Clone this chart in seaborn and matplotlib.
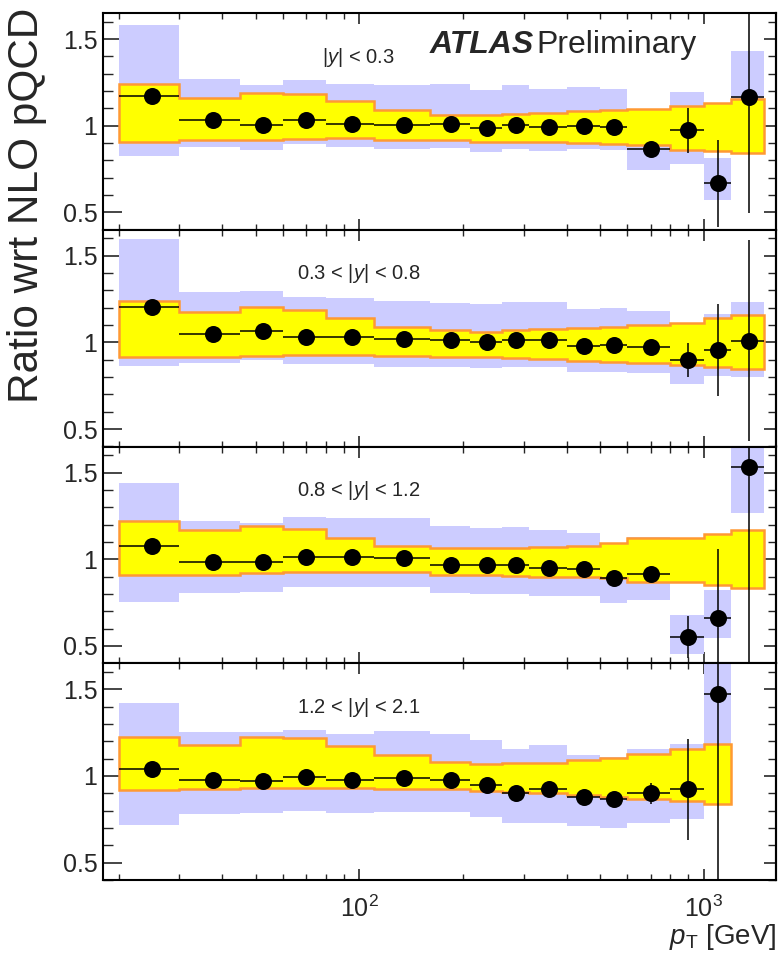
import numpy as np
import matplotlib
matplotlib.use("Agg")
import matplotlib.pyplot as plt
from matplotlib.ticker import (FixedLocator, MultipleLocator, FuncFormatter,
                               LogLocator, NullFormatter)
import seaborn as sns

# ---- binning in jet pT [GeV] ----
pt_edges = [20, 30, 45, 60, 80, 110, 160, 210, 260, 310, 400, 500, 600,
            800, 1000, 1200, 1500]
pt_mid = [25, 37.5, 52.5, 70, 95, 135, 185, 235, 285, 355, 450, 550, 700,
          900, 1100, 1350]

rap_labels = ["|$y$| < 0.3", "0.3 < |$y$| < 0.8",
              "0.8 < |$y$| < 1.2", "1.2 < |$y$| < 2.1"]

# ---- |y| < 0.3 ----
ratio_y0 = [1.174, 1.034, 1.006, 1.034, 1.011, 1.002, 1.011, 0.987, 1.006,
            0.992, 0.996, 0.992, 0.868, 0.973, 0.667, 1.165]
stat_y0 = [0.005] * 13 + [0.13, 0.25, 0.67]
syst_lo_y0 = [0.824, 0.877, 0.862, 0.893, 0.877, 0.868, 0.870, 0.849, 0.868,
              0.854, 0.868, 0.858, 0.747, 0.780, 0.571, 0.920]
syst_hi_y0 = [1.582, 1.270, 1.232, 1.264, 1.241, 1.232, 1.241, 1.207, 1.232,
              1.213, 1.226, 1.213, 0.990, 1.193, 0.816, 1.433]
theo_lo_y0 = [0.906, 0.916, 0.920, 0.923, 0.927, 0.920, 0.916, 0.906, 0.906,
              0.906, 0.900, 0.897, 0.887, 0.862, 0.854, 0.843]
theo_hi_y0 = [1.241, 1.159, 1.190, 1.180, 1.142, 1.088, 1.063, 1.059, 1.069,
              1.073, 1.082, 1.088, 1.098, 1.111, 1.130, 1.155]

# ---- 0.3 < |y| < 0.8 ----
ratio_y1 = [1.206, 1.051, 1.064, 1.034, 1.034, 1.018, 1.014, 1.005, 1.014,
            1.014, 0.982, 0.986, 0.972, 0.899, 0.957, 1.011]
stat_y1 = [0.005] * 13 + [0.10, 0.265, 0.58]
syst_lo_y1 = [0.867, 0.884, 0.899, 0.876, 0.876, 0.861, 0.861, 0.851, 0.861,
              0.861, 0.832, 0.832, 0.826, 0.761, 0.807, 0.800]
syst_hi_y1 = [1.596, 1.291, 1.298, 1.260, 1.254, 1.241, 1.229, 1.222, 1.235,
              1.235, 1.191, 1.197, 1.183, 1.030, 1.164, 1.235]
theo_lo_y1 = [0.915, 0.918, 0.922, 0.930, 0.930, 0.922, 0.918, 0.918, 0.909,
              0.903, 0.895, 0.890, 0.880, 0.870, 0.857, 0.845]
theo_hi_y1 = [1.237, 1.176, 1.202, 1.187, 1.141, 1.091, 1.072, 1.062, 1.072,
              1.076, 1.082, 1.091, 1.101, 1.114, 1.139, 1.158]

# ---- 0.8 < |y| < 1.2 ----
ratio_y2 = [1.078, 0.984, 0.984, 1.011, 1.011, 1.007, 0.968, 0.964, 0.968,
            0.949, 0.943, 0.893, 0.916, 0.552, 0.659, 1.529]
stat_y2 = [0.005] * 13 + [0.123, 0.40, 1.2]
syst_lo_y2 = [0.751, 0.808, 0.813, 0.838, 0.838, 0.838, 0.808, 0.800, 0.800,
              0.788, 0.788, 0.746, 0.765, 0.455, 0.543, 1.264]
syst_hi_y2 = [1.442, 1.220, 1.210, 1.245, 1.239, 1.235, 1.191, 1.181, 1.187,
              1.166, 1.152, 1.050, 1.127, 0.678, 0.823, 1.800]
theo_lo_y2 = [0.910, 0.910, 0.920, 0.927, 0.927, 0.924, 0.910, 0.910, 0.904,
              0.900, 0.900, 0.891, 0.871, 0.866, 0.852, 0.833]
theo_hi_y2 = [1.220, 1.171, 1.191, 1.175, 1.123, 1.074, 1.065, 1.062, 1.065,
              1.071, 1.078, 1.094, 1.123, 1.123, 1.143, 1.171]

# ---- 1.2 < |y| < 2.1 (no 1200-1500 GeV bin) ----
ratio_y3 = [1.038, 0.977, 0.971, 0.994, 0.977, 0.987, 0.977, 0.948, 0.904,
            0.923, 0.881, 0.869, 0.900, 0.923, 1.471]
stat_y3 = [0.005] * 12 + [0.06, 0.29, 1.1]
syst_lo_y3 = [0.717, 0.783, 0.785, 0.798, 0.788, 0.792, 0.792, 0.765, 0.731,
              0.731, 0.712, 0.702, 0.727, 0.750, 1.183]
syst_hi_y3 = [1.423, 1.254, 1.254, 1.265, 1.240, 1.260, 1.240, 1.208, 1.154,
              1.177, 1.119, 1.110, 1.154, 1.183, 1.800]
theo_lo_y3 = [0.919, 0.923, 0.929, 0.933, 0.933, 0.923, 0.923, 0.913, 0.908,
              0.904, 0.888, 0.881, 0.865, 0.856, 0.837]
theo_hi_y3 = [1.225, 1.177, 1.225, 1.221, 1.173, 1.119, 1.081, 1.067, 1.073,
              1.077, 1.090, 1.106, 1.125, 1.158, 1.183]

panels = [
    (ratio_y0, stat_y0, syst_lo_y0, syst_hi_y0, theo_lo_y0, theo_hi_y0),
    (ratio_y1, stat_y1, syst_lo_y1, syst_hi_y1, theo_lo_y1, theo_hi_y1),
    (ratio_y2, stat_y2, syst_lo_y2, syst_hi_y2, theo_lo_y2, theo_hi_y2),
    (ratio_y3, stat_y3, syst_lo_y3, syst_hi_y3, theo_lo_y3, theo_hi_y3),
]

SYST_COLOR = "#ccccff"
THEO_FILL = "#ffff00"
THEO_EDGE = "#ff9933"

sns.set_style("ticks")
plt.rcParams.update({
    "font.family": ["Liberation Sans", "DejaVu Sans"],
    "mathtext.fontset": "custom",
    "mathtext.rm": "Liberation Sans",
    "mathtext.it": "Liberation Sans:italic",
    "mathtext.bf": "Liberation Sans:bold",
    "axes.linewidth": 1.5,
    "axes.edgecolor": "black",
})

W, H = 779, 957
fig, axes = plt.subplots(4, 1, figsize=(W / 100, H / 100), dpi=100, sharex=True)
fig.subplots_adjust(left=103 / W, right=776 / W, top=1 - 13 / H,
                    bottom=1 - 880 / H, hspace=0)

for ax, label, (ratio, stat, s_lo, s_hi, t_lo, t_hi) in zip(axes, rap_labels, panels):
    n = len(ratio)
    edges = np.asarray(pt_edges[:n + 1], dtype=float)
    mid = np.asarray(pt_mid[:n], dtype=float)
    ratio = np.asarray(ratio)
    s_lo = np.asarray(s_lo)
    s_hi = np.asarray(s_hi)

    # experimental systematic band around the data
    ax.bar(edges[:-1], s_hi - s_lo, bottom=s_lo, width=np.diff(edges),
           align="edge", color=SYST_COLOR, linewidth=0, zorder=1)

    # NLO theory uncertainty band (step outline)
    xs = np.repeat(edges, 2)[1:-1]
    up = np.repeat(t_hi, 2)
    dn = np.repeat(t_lo, 2)
    ax.fill(np.concatenate([xs, xs[::-1]]), np.concatenate([up, dn[::-1]]),
            facecolor=THEO_FILL, edgecolor=THEO_EDGE, linewidth=1.8, zorder=2)

    # data points with bin-width and statistical error bars
    ax.errorbar(mid, ratio, xerr=[mid - edges[:-1], edges[1:] - mid], yerr=stat,
                fmt="none", ecolor="black", elinewidth=1.1, capsize=0, zorder=3)
    sns.scatterplot(x=mid, y=ratio, ax=ax, color="black", s=150, linewidth=0,
                    zorder=4, legend=False)

    ax.set_xscale("log")
    ax.set_xlim(18, 1620)
    ax.set_ylim(0.4, 1.65)
    ax.set_xlabel("")
    ax.set_ylabel("")

    ax.yaxis.set_major_locator(FixedLocator([0.5, 1.0, 1.5]))
    ax.yaxis.set_minor_locator(MultipleLocator(0.1))
    ax.yaxis.set_major_formatter(FuncFormatter(lambda v, _: f"{v:g}"))
    ax.tick_params(axis="y", which="major", direction="in", length=14,
                   width=1.2, labelsize=18, left=True, right=False, pad=4)
    ax.tick_params(axis="y", which="minor", direction="in", length=7,
                   width=1.0, left=True, right=False)

    sec = ax.secondary_yaxis("right")
    sec.yaxis.set_major_locator(FixedLocator([0.5, 1.0, 1.5]))
    sec.yaxis.set_minor_locator(MultipleLocator(0.1))
    sec.yaxis.set_major_formatter(NullFormatter())
    sec.tick_params(which="major", direction="in", length=9, width=1.2)
    sec.tick_params(which="minor", direction="in", length=6, width=1.0)

    ax.xaxis.set_major_locator(LogLocator(base=10))
    ax.xaxis.set_minor_locator(LogLocator(base=10, subs=np.arange(2, 10)))
    ax.xaxis.set_minor_formatter(NullFormatter())
    ax.tick_params(axis="x", which="major", direction="in", length=8,
                   width=1.2, top=True, bottom=True, labelsize=18, pad=11)
    ax.tick_params(axis="x", which="minor", direction="in", length=4,
                   width=1.0, top=True, bottom=True)

    ax.text(0.38, 0.796, label, transform=ax.transAxes, ha="center",
            va="center", fontsize=14.5)

fig.text(27 / W, 1 - 8 / H, "Ratio wrt NLO pQCD", rotation=90, ha="center",
         va="top", fontsize=30.5)
fig.text(430 / W, 1 - 53 / H, "ATLAS", fontsize=23, fontweight="bold",
         fontstyle="italic", va="baseline", ha="left")
fig.text(536 / W, 1 - 53 / H, "Preliminary", fontsize=23, va="baseline",
         ha="left")
fig.text(776 / W, 1 - 944 / H, r"$p_{\mathrm{T}}$ [GeV]", fontsize=20,
         ha="right", va="baseline")

fig.savefig("out.png", dpi=100)
